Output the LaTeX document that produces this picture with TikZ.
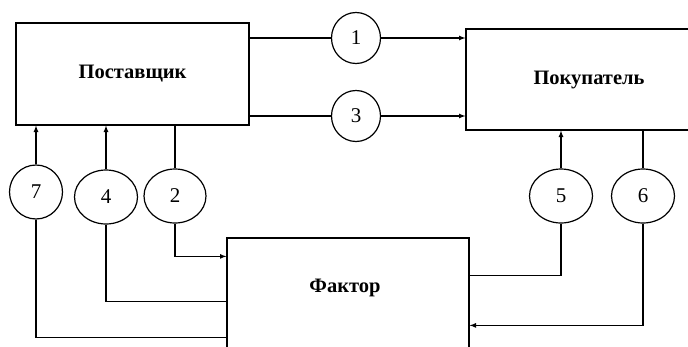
\documentclass[tikz,border=0pt]{standalone}
\usepackage{fontspec}
\setmainfont{Liberation Serif}
\usetikzlibrary{shapes.geometric}

\begin{document}
\begin{tikzpicture}[x=1pt,y=-1pt,line width=1.2pt,>=latex,
  box/.style={draw,rectangle,inner sep=0pt},
  title/.style={font=\fontsize{20.5}{23}\selectfont\bfseries},
  num/.style={draw,ellipse,inner sep=0pt,minimum height=54pt,font=\fontsize{21}{24}\selectfont}]
\clip (0,0) rectangle (688,346);
\node [box,title,minimum width=233pt,minimum height=102pt] (post) at (132.5,74) {Поставщик};
\node [box,title,minimum width=246pt,minimum height=101pt] (pok) at (589,79.5) {Покупатель};
\node [box,minimum width=242pt,minimum height=130pt] (fak) at (348,303) {};
\node [title] (fakname) at (345,288) {Фактор};
\node [num,minimum width=49pt,minimum height=51pt] (c1) at (356,38) {1};
\node [num,minimum width=49pt,minimum height=51pt] (c3) at (356,116) {3};
\node [num,minimum width=53pt] (c7) at (36,192) {7};
\node [num,minimum width=63pt] (c4) at (106,197) {4};
\node [num,minimum width=62pt] (c2) at (175,196) {2};
\node [num,minimum width=63pt] (c5) at (561,196) {5};
\node [num,minimum width=63pt] (c6) at (643,196) {6};
\draw (post.east |- c1) -- (c1);
\draw [->] (c1) -- (c1 -| pok.west);
\draw (post.east |- c3) -- (c3);
\draw [->] (c3) -- (c3 -| pok.west);
\draw [->] (c7) -- (c7 |- post.south);
\draw [->] (c4) -- (c4 |- post.south);
\draw (c2 |- post.south) -- (c2);
\draw [->] (c2) |- ([yshift=-19pt]fak.north west);
\draw (c4) |- ([yshift=-64pt]fak.north west);
\draw (c7) |- ([yshift=-100pt]fak.north west);
\draw (c5) |- ([yshift=-38pt]fak.north east);
\draw [->] (c5) -- (c5 |- pok.south);
\draw (c6 |- pok.south) -- (c6);
\draw [->] (c6) |- ([yshift=-88pt]fak.north east);
\end{tikzpicture}
\end{document}
